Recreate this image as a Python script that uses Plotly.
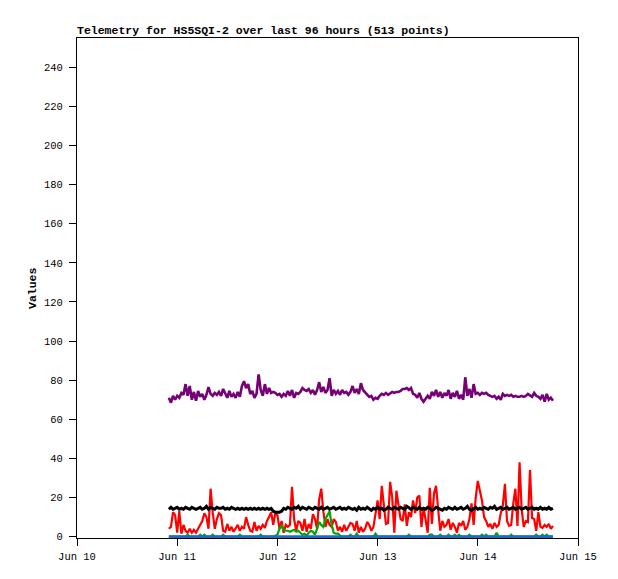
import pandas as pd
import plotly.graph_objects as go

# ---- data (30-minute samples, Jun 10 22:00 -> Jun 14 18:00) ----
start_time = "2024-06-10 22:00"
step = "30min"

purple_vals = [
    71, 68.5, 72, 70, 72, 71, 73.5, 72.5, 78, 72,
    77, 70, 74, 69.5, 74.5, 71.5, 73, 70, 72.5, 76.5,
    73, 72, 73.5, 72.5, 74, 72, 75.5, 73, 71, 74.5,
    71.5, 73, 71, 74, 71.5, 77, 79.5, 76, 78, 73,
    74.5, 71, 73, 83, 75, 72, 78, 73, 76, 73.5,
    74, 73.5, 72.5, 73, 71.5, 73, 72, 74.5, 72, 75,
    71, 73.5, 73, 74, 76, 75, 74.5, 75.5, 73.5, 75,
    72.5, 75, 79, 74, 76.5, 73.5, 75, 81, 72, 75,
    73, 74.5, 72.5, 75, 73.5, 74, 72.5, 74, 77, 73.5,
    75.5, 73, 78.5, 75, 74, 72.5, 71.5, 72, 70, 71,
    70.5, 72, 73, 72.5, 73.5, 72.5, 73.5, 74, 73.5, 74,
    74, 74.5, 75.5, 75.5, 76, 75, 76, 73, 72.5, 71,
    73.5, 70.5, 69, 70.5, 72, 70.5, 74, 72, 75, 71.5,
    74, 71, 73.5, 72, 75, 70.5, 73.5, 71.5, 74.5, 70.5,
    72.5, 70, 81.5, 72, 75.5, 71, 78, 73, 73.5, 72.5,
    73.5, 73, 73.5, 72.5, 72, 71.5, 72, 70.5, 71.5, 70,
    73, 72, 72.5, 72, 72.5, 71.5, 72, 71.5, 71.5, 72,
    71.5, 72, 73, 72, 71.5, 73.5, 72, 71.5, 70.5, 72.5,
    69, 73, 70, 71, 69.5,
]

black_vals = [
    14, 15, 14, 14.5, 15, 14, 14.5, 14, 15, 14.5,
    14, 15, 14.5, 14, 14.5, 15, 14, 14.5, 15.5, 14,
    15, 14.5, 14, 15, 14.5, 14.5, 15, 14, 14.5, 14,
    15, 14.5, 14, 14.5, 14, 14.5, 14, 14.5, 14, 14.5,
    14, 14.5, 14, 14.5, 14, 14.5, 14, 14.5, 14, 14.5,
    13, 12.5, 12.5, 12.5, 13, 14.5, 14, 15, 14.5, 14,
    15, 14.5, 15.5, 14, 15, 14.5, 14, 15, 14.5, 14,
    15, 14.5, 14, 15, 14, 14.5, 15, 14, 14.5, 15,
    14, 14.5, 15, 14, 14.5, 14, 15, 14.5, 14, 14.5,
    13.5, 15, 14, 14.5, 14, 15, 14, 13.5, 14.5, 14,
    15, 14, 14.5, 13.5, 14, 15, 14.5, 14, 15, 14.5,
    14, 15, 14.5, 14, 15.5, 14.5, 14, 15, 14.5, 14,
    15, 14, 14.5, 14, 15, 14.5, 13.5, 14, 15, 14.5,
    14, 13.5, 14.5, 14, 15, 14.5, 14, 15, 14, 14.5,
    15, 14, 14.5, 15.5, 14, 13.5, 14.5, 15, 14, 14.5,
    14, 15, 14.5, 14, 15, 14.5, 15.5, 14, 14.5, 15,
    14, 14.5, 15, 14, 14.5, 15, 14, 14.5, 15, 14,
    14.5, 15, 14, 14.5, 15, 14, 14.5, 14, 15, 14,
    14.5, 14, 15, 14, 14.5,
]

red_vals = [
    4, 5, 12.5, 11, 2, 13, 1.5, 6, 3, 2,
    4, 2, 3.5, 2, 4, 6, 8, 12, 10, 4,
    24.5, 12.5, 4, 9, 12, 11, 3, 2.5, 6.5, 3,
    5, 2.5, 4, 6, 3, 5, 4, 10, 6, 3,
    2.5, 7.5, 3, 5.5, 4, 6, 4.5, 8, 10, 12.5,
    6, 12, 11, 4, 8, 2, 6, 5, 6, 25.5,
    9, 3, 8, 7, 3, 9, 2.5, 6.5, 4, 11.5,
    9, 4, 19, 24.5, 13, 5, 9, 6, 5, 9,
    7.5, 3, 5, 2.5, 6, 3, 5, 7, 6.5, 3,
    8, 2, 5, 2.5, 4, 7.5, 6, 3, 5, 11,
    18.5, 9, 26, 16, 6.5, 7, 28, 20, 2, 23.5,
    15, 9, 8, 16.5, 5.5, 12.5, 10, 18.5, 12, 20,
    21, 5, 15, 8, 2, 25, 6.5, 22, 26, 14,
    3, 8, 5, 6, 9, 3.5, 7, 5, 2, 7,
    5.5, 8, 3.5, 5, 9, 17, 6, 20, 28.5, 23.5,
    18.5, 10, 8, 5, 6.5, 4, 7, 5, 6, 12,
    16, 27, 8, 5.5, 6, 17, 24.5, 5.5, 38, 14,
    5, 8, 7.5, 34, 9.5, 9, 3, 12.5, 5, 4.5,
    6, 5, 6.5, 4, 5.5,
]

green_vals = [
    0, 0, 0, 0, 0, 0, 0, 0, 0, 1,
    0, 0, 0, 0, 0, 1, 0, 1, 0, 0,
    0, 1, 0, 0, 0, 0, 1, 0, 0, 0,
    0, 0, 0, 0, 1, 0, 0, 0, 0, 0,
    0, 0, 0, 0, 1, 0, 0, 0, 0, 0,
    0, 0.5, 1, 4, 5.5, 3.5, 3, 3, 2.5, 3,
    3.5, 2.5, 3, 2, 1, 1.5, 0.5, 2, 3, 2.5,
    1, 4, 7.5, 6, 5, 9, 11, 13, 6, 2,
    1.5, 1.5, 0.5, 0, 0, 0, 0, 1, 0, 0,
    1.5, 0, 0, 0, 0, 0, 0, 0, 0, 1.5,
    0, 0, 0, 0, 0, 0, 0, 0, 0, 0,
    0, 0, 0, 0, 0, 1, 0, 0, 0, 0,
    0, 0, 0, 0, 0, 1, 1, 0, 0, 0,
    1, 0, 0, 0, 1, 0, 0, 1, 0, 1,
    0, 0, 0, 0, 1, 0, 0, 0, 0, 0,
    1, 0, 1, 0, 0, 0, 0, 2, 0, 0,
    0, 0, 0, 0, 1, 0, 0, 0, 0, 0,
    0, 0, 0, 0, 0, 0, 1, 0, 0, 1,
    0, 1, 0, 0, 0,
]

blue_vals = [
    0, 0, 0, 0, 0, 0, 0, 0, 0, 0,
    0, 0, 0, 0, 0, 0, 0, 0, 0, 0,
    0, 0, 0, 0, 0, 0, 0, 0, 0, 0,
    0, 0, 0, 0, 0, 0, 0, 0, 0, 0,
    0, 0, 0, 0, 0, 0, 0, 0, 0, 0,
    0, 0, 0, 0, 0, 0, 0, 0, 0, 0,
    0, 0, 0, 0, 0, 0, 0, 0, 0, 0,
    0, 0, 0, 0, 0, 0, 0, 0, 0, 0,
    0, 0, 0, 0, 0, 0, 0, 0, 0, 0,
    0, 0, 0, 0, 0, 0, 0, 0, 0, 0,
    0, 0, 0, 0, 0, 0, 0, 0, 0, 0,
    0, 0, 0, 0, 0, 0, 0, 0, 0, 0,
    0, 0, 0, 0, 0, 0, 0, 0, 0, 0,
    0, 0, 0, 0, 0, 0, 0, 0, 0, 0,
    0, 0, 0, 0, 0, 0, 0, 0, 0, 0,
    0, 0, 0, 0, 0, 0, 0, 0, 0, 0,
    0, 0, 0, 0, 0, 0, 0, 0, 0, 0,
    0, 0, 0, 0, 0, 0, 0, 0, 0, 0,
    0, 0, 0, 0, 0,
]

x_tick_vals = ["2024-06-10", "2024-06-11", "2024-06-12", "2024-06-13", "2024-06-14", "2024-06-15"]
x_tick_text = ["Jun 10", "Jun 11", "Jun 12", "Jun 13", "Jun 14", "Jun 15"]
y_tick_vals = [0, 20, 40, 60, 80, 100, 120, 140, 160, 180, 200, 220, 240]

title_text = "Telemetry for HS5SQI-2 over last 96 hours (513 points)"
y_title = "Values"

times = pd.date_range(start=start_time, periods=len(red_vals), freq=step)

series = [
    ("Channel 3", red_vals, "#ff0000", 2.2),
    ("Channel 4", green_vals, "#00a800", 2.2),
    ("Channel 2", black_vals, "#000000", 3),
    ("Channel 1", purple_vals, "#760076", 2.6),
    ("Channel 5", blue_vals, "#1a6cc8", 2.6),
]

fig = go.Figure()
for name, vals, color, w in series:
    fig.add_trace(go.Scatter(x=times, y=vals, mode="lines", name=name,
                             line=dict(color=color, width=w), showlegend=False))

tick_font = dict(family="Liberation Mono, DejaVu Sans Mono, monospace", size=10.5, color="#000000")
bold_font = dict(family="Liberation Mono, DejaVu Sans Mono, monospace", size=11.5, color="#000000")

# page body has an 8px margin, so the figure is sized/placed to compensate
fig.update_layout(
    width=610, height=571,
    margin=dict(l=69, r=40, t=30, b=41),
    paper_bgcolor="white", plot_bgcolor="white",
    xaxis=dict(
        range=["2024-06-10", "2024-06-15"],
        tickvals=x_tick_vals, ticktext=x_tick_text,
        ticks="outside", ticklen=7, tickcolor="#000", tickwidth=1,
        showline=True, linecolor="#000", linewidth=1, mirror=True,
        showgrid=False, zeroline=False, tickfont=tick_font,
        ticklabelstandoff=1,
    ),
    yaxis=dict(
        range=[-0.7, 255],
        tickvals=y_tick_vals,
        ticks="outside", ticklen=7, tickcolor="#000", tickwidth=1,
        showline=True, linecolor="#000", linewidth=1, mirror=True,
        showgrid=False, zeroline=False, tickfont=tick_font,
        ticklabelstandoff=4,
    ),
    annotations=[
        dict(text="<b>" + title_text + "</b>", xref="paper", yref="paper",
             x=0, y=1, xanchor="left", yanchor="bottom", showarrow=False,
             font=bold_font, yshift=-1, xshift=-2),
        dict(text="<b>" + y_title + "</b>", xref="paper", yref="paper",
             x=(24 - 69) / 501, y=0.5, xanchor="center", yanchor="middle",
             textangle=-90, showarrow=False, font=bold_font),
    ],
)

fig.write_html("out.html")
